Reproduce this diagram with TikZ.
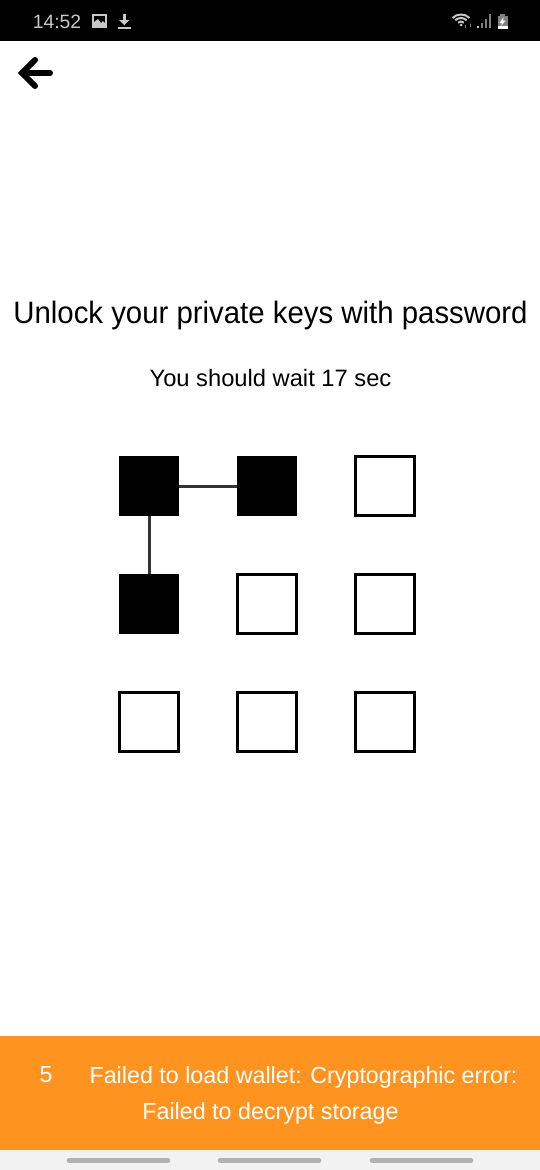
\documentclass[tikz,border=0pt]{standalone}
\usepackage{fontspec}
\setmainfont{Liberation Sans}
\newfontfamily\titlefont[FakeStretch=0.95]{Liberation Sans}
\usetikzlibrary{arrows.meta,calc,positioning}
\definecolor{bannerorange}{HTML}{FF9320}
\definecolor{navgray}{HTML}{F2F2F2}
\definecolor{pillgray}{HTML}{B2B2B2}
\definecolor{statusgray}{HTML}{C8C8C8}
\tikzset{
  keyopen/.style={draw=black,line width=0.055cm,fill=white,minimum size=1.17cm,inner sep=0pt},
  keyfull/.style={fill=black,minimum size=1.19cm,inner sep=0pt,outer sep=0pt},
  keyline/.style={line width=0.06cm,draw=black!80},
  pill/.style={line width=0.09cm,pillgray,line cap=round},
  bannertext/.style={white,inner sep=0pt,font=\fontsize{13.25}{15}\selectfont}
}
\begin{document}
\begin{tikzpicture}[x=0.02cm,y=-0.02cm]
        \useasboundingbox (0,0) rectangle (540,1170);
        % Status bar
        \fill[black] (0,0) rectangle (540,41);
        \node[statusgray,inner sep=0pt,font=\fontsize{11}{13}\selectfont] (clock) at (57,22) {14:52};
        % Image icon
        \fill[statusgray] (92,14) rectangle (107,28);
        \fill[black] (94,16) rectangle (105,26);
        \fill[statusgray] (94,26) -- (94,22) -- (98,19) -- (101,23) -- (103,21) -- (105,23) -- (105,26) -- cycle;
        % Download icon
        \fill[statusgray] (122.5,14) rectangle (126,20);
        \fill[statusgray] (119,20) -- (129.5,20) -- (124.25,25) -- cycle;
        \fill[statusgray] (118,27) rectangle (130.5,29);
        % Wifi icon
        \draw[statusgray,line width=0.04cm] (452.5,18) arc (-135:-45:12);
        \draw[statusgray,line width=0.04cm] (455.3,20.3) arc (-135:-45:8);
        \draw[statusgray,line width=0.04cm] (458.2,22.7) arc (-135:-45:4);
        \fill[statusgray] (461,25) circle (1.5);
        \fill[gray] (465,25) rectangle (466,28);
        \fill[gray] (470,24) rectangle (471,27);
        % Signal icon
        \foreach \x/\top/\shade in {477/26/statusgray,481/23/gray,485/19/gray,489/14/gray}
          \fill[\shade] (\x,\top) rectangle ++(2,28-\top);
        % Battery icon
        \fill[gray] (500,14) rectangle (505,16);
        \fill[gray] (497.5,16) rectangle (507.5,29);
        \fill[white] (497.5,26) rectangle (507.5,29);
        \fill[white] (503.5,17) -- (499.5,23) -- (502,23) -- (501,26) -- (505.5,20.5) -- (503,20.5) -- cycle;
        % Back arrow
        \draw[line width=0.12cm,line cap=round] (50,73) -- (22,73);
        \draw[line width=0.12cm,line cap=round,line join=miter] (35,60) -- (22,73) -- (35,86);
        % Headings
        \node[inner sep=0pt,font=\titlefont\fontsize{17.6}{20}\selectfont] (title) at (270.5,315) {Unlock your private keys with password};
        \node[inner sep=0pt,font=\fontsize{13.5}{16}\selectfont] (wait) at (270.5,378) {You should wait 17 sec};
        % Pattern keys
        \node[keyfull] (k11) at (149,486) {};
        \node[keyfull] (k12) at (267,486) {};
        \node[keyopen] (k13) at (385,486) {};
        \node[keyfull] (k21) at (149,604) {};
        \node[keyopen] (k22) at (267,604) {};
        \node[keyopen] (k23) at (385,604) {};
        \node[keyopen] (k31) at (149,722) {};
        \node[keyopen] (k32) at (267,722) {};
        \node[keyopen] (k33) at (385,722) {};
        % Pattern lines
        \draw[keyline] (k11) -- (k12);
        \draw[keyline] (k11) -- (k21);
        % Error banner
        \fill[bannerorange] (0,1036) rectangle (540,1150);
        \node[bannertext] (count) at (46,1075) {5};
        \node[bannertext] (error) at (303.5,1077) {Failed to load wallet: Cryptographic error:};
        \node[bannertext] (errortwo) at (270.5,1113) {Failed to decrypt storage};
        % Navigation bar
        \fill[navgray] (0,1150) rectangle (540,1170);
        \foreach \x in {69,220,372}
          \draw[pill] (\x,1160.5) -- ++(99,0);
\end{tikzpicture}
\end{document}
